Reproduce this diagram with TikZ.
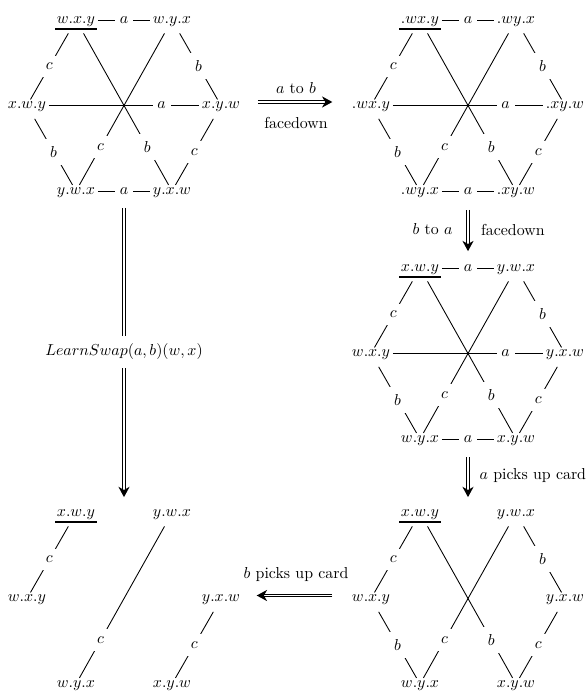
\documentclass[tikz,border=0pt]{standalone}
\usetikzlibrary{arrows.meta,calc}
\tikzset{
  st/.style={inner xsep=1.5pt, inner ysep=1pt, text height=4.3pt, text depth=0pt},
  lbl/.style={fill=white, inner xsep=3pt, inner ysep=4.7pt},
  dg/.style={shorten <=9.7pt, shorten >=4.4pt},
  ul/.style={line width=0.8pt},
  dbl/.style={double, double distance=1.1pt, line width=0.7pt, -{Stealth[length=6.5pt,width=7pt,inset=2pt]}},
  alab/.style={inner sep=1pt},
}
\newcommand\placesix[7]{%
  \node[st] (#1-TL) at (76,20) {$#2$};
  \node[st] (#1-TR) at (172,20) {$#3$};
  \node[st] (#1-L) at (27,105.5) {$#4$};
  \node[st] (#1-R) at (221,105.5) {$#5$};
  \node[st] (#1-BL) at (76,191) {$#6$};
  \node[st] (#1-BR) at (172,191) {$#7$};
  \draw[ul] ([shift={(0.6pt,-3.5pt)}]#1-TL.base west) -- ([shift={(-0.6pt,-3.5pt)}]#1-TL.base east);
}
\newcommand\shortedge[3]{\draw[dg] (#1.center) -- node[lbl,pos=.543]{$#3$} (#2.center);}
\newcommand\longedge[3]{\draw[dg] (#1.center) -- node[lbl,pos=.743]{$#3$} (#2.center);}
\newcommand\hedge[4]{\draw (#1) -- node[lbl,pos=#4]{$#3$} (#2);}
\newcommand\fullhex[1]{%
  \hedge{#1-TL}{#1-TR}{a}{.5}
  \shortedge{#1-TL}{#1-L}{c}
  \shortedge{#1-TR}{#1-R}{b}
  \hedge{#1-L}{#1-R}{a}{.75}
  \longedge{#1-TL}{#1-BR}{b}
  \longedge{#1-TR}{#1-BL}{c}
  \shortedge{#1-L}{#1-BL}{b}
  \shortedge{#1-R}{#1-BR}{c}
  \hedge{#1-BL}{#1-BR}{a}{.5}
}
\begin{document}
\begin{tikzpicture}[x=0.63pt, y=-0.63pt, line width=0.55pt]
\useasboundingbox (0,0) rectangle (585,692);
% top-left
\placesix{A}{w.x.y}{w.y.x}{x.w.y}{x.y.w}{y.w.x}{y.x.w}
\fullhex{A}
% top-right
\begin{scope}[shift={(344,0)}]
\placesix{B}{.wx.y}{.wy.x}{.wx.y}{.xy.w}{.wy.x}{.xy.w}
\fullhex{B}
\end{scope}
% middle-right
\begin{scope}[shift={(344,248)}]
\placesix{C}{x.w.y}{y.w.x}{w.x.y}{y.x.w}{w.y.x}{x.y.w}
\fullhex{C}
\end{scope}
% bottom-right
\begin{scope}[shift={(344,493)}]
\placesix{D}{x.w.y}{y.w.x}{w.x.y}{y.x.w}{w.y.x}{x.y.w}
\shortedge{D-TL}{D-L}{c}
\shortedge{D-TR}{D-R}{b}
\longedge{D-TL}{D-BR}{b}
\longedge{D-TR}{D-BL}{c}
\shortedge{D-L}{D-BL}{b}
\shortedge{D-R}{D-BR}{c}
\end{scope}
% bottom-left
\begin{scope}[shift={(0,493)}]
\placesix{E}{x.w.y}{y.w.x}{w.x.y}{y.x.w}{w.y.x}{x.y.w}
\shortedge{E-TL}{E-L}{c}
\longedge{E-TR}{E-BL}{c}
\shortedge{E-R}{E-BR}{c}
\end{scope}
% arrows
\draw[dbl, shorten <=9.4pt, shorten >=10.6pt] ($(A-R.east)+(0,-3.5)$) --
  node[midway, above=3.9pt, alab]{$a$ to $b$}
  node[midway, below=8pt, alab]{facedown} ($(B-L.west)+(0,-3.5)$);
\draw[dbl, shorten <=11.9pt, shorten >=10.6pt] ($(B-BL)!.5!(B-BR)$) --
  node[midway, left=8.4pt, alab]{$b$ to $a$}
  node[midway, right=6.9pt, alab]{facedown} ($(C-TL)!.5!(C-TR)$);
\draw[dbl, shorten <=11.6pt, shorten >=10pt] ($(C-BL)!.5!(C-BR)$) --
  node[midway, right=6pt, alab]{$a$ picks up card} ($(D-TL)!.5!(D-TR)$);
\draw[dbl, shorten <=10.6pt, shorten >=8.75pt] ($(D-L.west)+(0,-3)$) --
  node[midway, above=7.4pt, alab]{$b$ picks up card} ($(E-R.east)+(0,-3)$);
\draw[dbl, shorten <=10.6pt, shorten >=10pt] ($(A-BL)!.5!(A-BR)$) --
  node[midway, fill=white, inner xsep=1pt, inner ysep=5pt]{$LearnSwap(a,b)(w,x)$} ($(E-TL)!.5!(E-TR)$);
\end{tikzpicture}
\end{document}
